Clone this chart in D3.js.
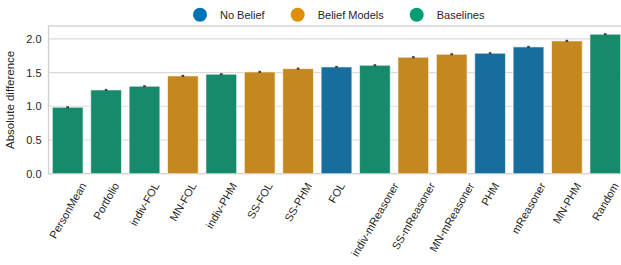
<!DOCTYPE html>
<html>
<head>
<meta charset="utf-8">
<script src="https://cdn.jsdelivr.net/npm/d3@7"></script>
<style>
  body { margin: 0; background: #fff; }
  svg { font-family: 'Liberation Sans', Arial, sans-serif; }
</style>
</head>
<body>
<div id="chart"></div>
<script>
// model names, sorted by score
var models = ['PersonMean', 'Portfolio', 'indiv-FOL', 'MN-FOL', 'indiv-PHM', 'SS-FOL', 'SS-PHM', 'FOL',
  'indiv-mReasoner', 'SS-mReasoner', 'MN-mReasoner', 'PHM', 'mReasoner', 'MN-PHM', 'Random']
var values = [0.985, 1.242, 1.297, 1.45, 1.475, 1.509, 1.558, 1.583, 1.608, 1.727, 1.771, 1.786, 1.88, 1.969, 2.068]
var errors = [0.016, 0.016, 0.016, 0.016, 0.016, 0.016, 0.016, 0.016, 0.016, 0.016, 0.016, 0.016, 0.016, 0.016, 0.016]
var groups = ['Baselines', 'Baselines', 'Baselines', 'Belief Models', 'Baselines', 'Belief Models', 'Belief Models',
  'No Belief', 'Baselines', 'Belief Models', 'Belief Models', 'No Belief', 'No Belief', 'Belief Models', 'Baselines']
var groupNames = ['No Belief', 'Belief Models', 'Baselines']
var yTicks = [0, 0.5, 1, 1.5, 2]

var W = 621
var H = 265
var margin = { top: 26, left: 48.5, bottom: 91.3 }
var plotW = 15 * 38.4
var plotH = H - margin.top - margin.bottom
var fontSize = 11

var svg = d3.select('#chart')
  .append('svg')
  .attr('width', W)
  .attr('height', H)

var g = svg.append('g')
  .attr('transform', `translate(${margin.left},${margin.top})`)

var x = d3.scaleBand()
  .domain(models)
  .range([0, plotW])
  .paddingInner(0.2)
  .paddingOuter(0.1)

var y = d3.scaleLinear()
  .domain([0, 2.19])
  .range([plotH, 0])

// seaborn colorblind, desaturated for bars
var barColor = d3.scaleOrdinal()
  .domain(groupNames)
  .range(['#176d9c', '#c38820', '#168a6a'])
var legendColor = d3.scaleOrdinal()
  .domain(groupNames)
  .range(['#0173b2', '#de8f05', '#029e73'])

// grid
g.append('g')
  .selectAll('line')
  .data(yTicks.filter(d => d > 0))
  .enter()
  .append('line')
  .attr('x1', 0)
  .attr('x2', plotW)
  .attr('y1', d => y(d))
  .attr('y2', d => y(d))
  .attr('stroke', '#dadada')
  .attr('stroke-width', 1.2)

// frame
g.append('rect')
  .attr('x', 0)
  .attr('y', 0)
  .attr('width', plotW)
  .attr('height', plotH)
  .attr('fill', 'none')
  .attr('stroke', '#d0d0d0')
  .attr('stroke-width', 1.3)

var rows = models.map((m, i) => ({ model: m, value: values[i], err: errors[i], group: groups[i] }))

g.append('g')
  .selectAll('rect')
  .data(rows)
  .enter()
  .append('rect')
  .attr('x', d => x(d.model))
  .attr('y', d => y(d.value))
  .attr('width', x.bandwidth())
  .attr('height', d => y(0) - y(d.value))
  .attr('fill', d => barColor(d.group))
  .attr('stroke', 'rgba(255,255,255,0.6)')
  .attr('stroke-width', 1)

// error bars
g.append('g')
  .selectAll('line')
  .data(rows)
  .enter()
  .append('line')
  .attr('x1', d => x(d.model) + x.bandwidth() / 2)
  .attr('x2', d => x(d.model) + x.bandwidth() / 2)
  .attr('y1', d => y(d.value - d.err))
  .attr('y2', d => y(d.value + d.err))
  .attr('stroke', '#424242')
  .attr('stroke-width', 2.6)

// y axis
var yAxis = g.append('g')
  .call(d3.axisLeft(y).tickValues(yTicks).tickFormat(d3.format('.1f')).tickSize(0).tickPadding(7))
yAxis.select('.domain').remove()
yAxis.selectAll('text')
  .attr('font-size', fontSize)
  .attr('fill', '#262626')

g.append('text')
  .attr('transform', `translate(-35,${plotH / 2}) rotate(-90)`)
  .attr('text-anchor', 'middle')
  .attr('font-size', 11.5)
  .attr('fill', '#262626')
  .text('Absolute difference')

// x labels, rotated 60 deg and centred like matplotlib
var labels = g.append('g')
  .selectAll('text')
  .data(models)
  .enter()
  .append('text')
  .attr('font-size', fontSize)
  .attr('fill', '#262626')
  .attr('text-anchor', 'middle')
  .attr('dominant-baseline', 'central')
  .text(d => d)
labels.attr('transform', function (d) {
  var len = this.getComputedTextLength()
  var bh = len * Math.sin(Math.PI / 3) + fontSize * 0.5
  var cx = x(d) + x.bandwidth() / 2
  return `translate(${cx},${plotH + 7 + bh / 2}) rotate(-60)`
})

// legend
var legend = svg.append('g')
  .selectAll('g')
  .data(groupNames)
  .enter()
  .append('g')
  .attr('transform', (d, i) => `translate(${[200, 297.7, 416.7][i]},14.7)`)
legend.append('circle')
  .attr('r', 7)
  .attr('fill', d => legendColor(d))
legend.append('text')
  .attr('x', 20)
  .attr('y', 4)
  .attr('font-size', fontSize)
  .attr('fill', '#262626')
  .text(d => d)
</script>
</body>
</html>
